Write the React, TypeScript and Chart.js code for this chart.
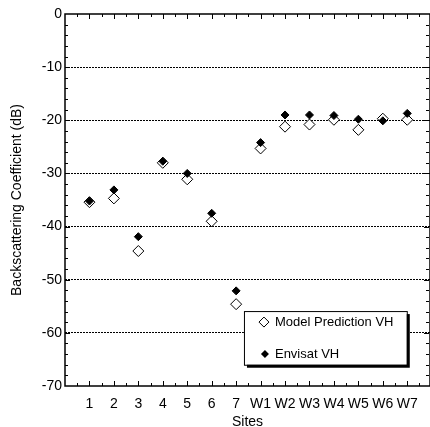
import React, { useEffect, useRef } from 'react';
import { Chart, registerables } from 'chart.js';

Chart.register(...registerables);

const sites = ['1', '2', '3', '4', '5', '6', '7', 'W1', 'W2', 'W3', 'W4', 'W5', 'W6', 'W7'];
const modelPredictionVH = [-35.4, -34.7, -44.6, -28.0, -31.1, -39.0, -54.6, -25.3, -21.2, -20.8, -19.9, -21.8, -19.7, -19.9];
const envisatVH = [-35.2, -33.1, -41.9, -27.7, -30.0, -37.5, -52.1, -24.2, -19.0, -19.0, -19.1, -19.8, -20.1, -18.7];
const yTickValues = [0, -10, -20, -30, -40, -50, -60, -70];
const legendLabels = ['Model Prediction VH', 'Envisat VH'];

const FONT = '"Liberation Sans", Arial, Helvetica, sans-serif';

const framePlugin = {
  id: 'frameTicksLegend',
  afterDraw(chart: any) {
    const ctx = chart.ctx;
    const xs = chart.scales.x;
    const ys = chart.scales.y;
    const { left, right, top, bottom } = chart.chartArea;
    ctx.save();
    ctx.strokeStyle = '#000';
    ctx.lineWidth = 1;
    const line = (x1: number, y1: number, x2: number, y2: number) => {
      ctx.beginPath();
      ctx.moveTo(x1, y1);
      ctx.lineTo(x2, y2);
      ctx.stroke();
    };
    // x tick marks (major at sites, minor halfway)
    for (let v = 0.5; v < xs.max; v += 0.5) {
      const px = Math.round(xs.getPixelForValue(v)) + 0.5;
      const len = Number.isInteger(v) ? 5 : 3;
      line(px, top, px, top + len);
      line(px, bottom, px, bottom - len);
    }
    // y tick marks (major every 10, minor every 2)
    for (let v = ys.min + 2; v < ys.max; v += 2) {
      const py = Math.round(ys.getPixelForValue(v)) + 0.5;
      const len = v % 10 === 0 ? 5 : 3;
      line(left, py, left + len, py);
      line(right - 1, py, right - 1 - len, py);
    }
    // frame
    ctx.lineWidth = 1.5;
    ctx.strokeRect(left, top, right - left, bottom - top);

    // legend box
    const bx1 = xs.getPixelForValue(7.32);
    const bx2 = xs.getPixelForValue(13.98);
    const by1 = ys.getPixelForValue(-55.9);
    const by2 = ys.getPixelForValue(-66.0);
    ctx.fillStyle = '#000';
    ctx.fillRect(bx1 + 3, by1 + 3, bx2 - bx1, by2 - by1);
    ctx.fillStyle = '#fff';
    ctx.fillRect(bx1, by1, bx2 - bx1, by2 - by1);
    ctx.lineWidth = 1;
    ctx.strokeRect(bx1 + 0.5, by1 + 0.5, bx2 - bx1, by2 - by1);

    const mx = bx1 + 20;
    const y1 = by1 + 11;
    const y2 = by1 + 43;
    // open diamond
    ctx.beginPath();
    ctx.moveTo(mx, y1 - 5);
    ctx.lineTo(mx + 5, y1);
    ctx.lineTo(mx, y1 + 5);
    ctx.lineTo(mx - 5, y1);
    ctx.closePath();
    ctx.fillStyle = '#fff';
    ctx.fill();
    ctx.stroke();
    // filled diamond
    ctx.beginPath();
    ctx.moveTo(mx + 1, y2 - 4);
    ctx.lineTo(mx + 5, y2);
    ctx.lineTo(mx + 1, y2 + 4);
    ctx.lineTo(mx - 3, y2);
    ctx.closePath();
    ctx.fillStyle = '#000';
    ctx.fill();

    ctx.font = `13px ${FONT}`;
    ctx.textBaseline = 'middle';
    ctx.textAlign = 'left';
    ctx.fillStyle = '#000';
    ctx.fillText(legendLabels[0], mx + 11, y1);
    ctx.fillText(legendLabels[1], mx + 11, y2);
    ctx.restore();
  },
};

export default function App() {
  const canvasRef = useRef<HTMLCanvasElement | null>(null);

  useEffect(() => {
    document.body.style.margin = '0';
    const canvas = canvasRef.current;
    if (!canvas) return;
    const chart = new Chart(canvas, {
      type: 'scatter',
      data: {
        datasets: [
          {
            label: legendLabels[1],
            data: envisatVH.map((v, i) => ({ x: i + 1, y: v })),
            pointStyle: 'rectRot',
            pointRadius: 4,
            backgroundColor: '#000',
            borderColor: '#000',
            borderWidth: 1,
          },
          {
            label: legendLabels[0],
            data: modelPredictionVH.map((v, i) => ({ x: i + 1, y: v })),
            pointStyle: 'rectRot',
            pointRadius: 5.5,
            backgroundColor: '#fff',
            borderColor: '#000',
            borderWidth: 1,
          },
        ],
      },
      options: {
        animation: false,
        responsive: false,
        maintainAspectRatio: false,
        events: [],
        layout: { autoPadding: false, padding: { left: 0, right: 0, top: 14, bottom: 0 } },
        plugins: {
          legend: { display: false },
          tooltip: { enabled: false },
        },
        scales: {
          x: {
            type: 'linear',
            min: 0,
            max: 14.93,
            afterFit: (s: any) => {
              s.height = 41;
              s.paddingLeft = 0;
              s.paddingRight = 0;
            },
            afterBuildTicks: (s: any) => {
              s.ticks = sites.map((_, i) => ({ value: i + 1 }));
            },
            ticks: {
              autoSkip: false,
              maxRotation: 0,
              padding: 10,
              color: '#000',
              font: { family: FONT, size: 14 },
              callback: (v: any) => sites[Number(v) - 1] ?? '',
            },
            grid: { display: false, drawTicks: false },
            border: { display: false },
            title: {
              display: true,
              text: 'Sites',
              color: '#000',
              font: { family: FONT, size: 14, lineHeight: 1 },
              padding: { top: 0, bottom: -2 },
            },
          },
          y: {
            type: 'linear',
            min: -70,
            max: 0,
            afterFit: (s: any) => {
              s.width = 65;
              s.paddingTop = 0;
              s.paddingBottom = 0;
            },
            afterBuildTicks: (s: any) => {
              s.ticks = yTickValues.map((v) => ({ value: v }));
            },
            ticks: {
              padding: 3,
              color: '#000',
              font: { family: FONT, size: 14 },
            },
            grid: {
              drawTicks: false,
              color: (c: any) => (c.tick && c.tick.value > -70 && c.tick.value < 0 ? '#000' : 'rgba(0,0,0,0)'),
              lineWidth: 1,
            },
            border: { display: false, dash: [2, 1] },
            title: {
              display: true,
              text: 'Backscattering Coefficient (dB)',
              color: '#000',
              font: { family: FONT, size: 14 },
              padding: { top: 9, bottom: 0 },
            },
          },
        },
      },
      plugins: [framePlugin],
    } as any);
    return () => chart.destroy();
  }, []);

  return (
    <div style={{ position: 'fixed', left: 0, top: 0, width: 430, height: 427 }}>
      <canvas ref={canvasRef} width={430} height={427} style={{ width: 430, height: 427 }} />
    </div>
  );
}
